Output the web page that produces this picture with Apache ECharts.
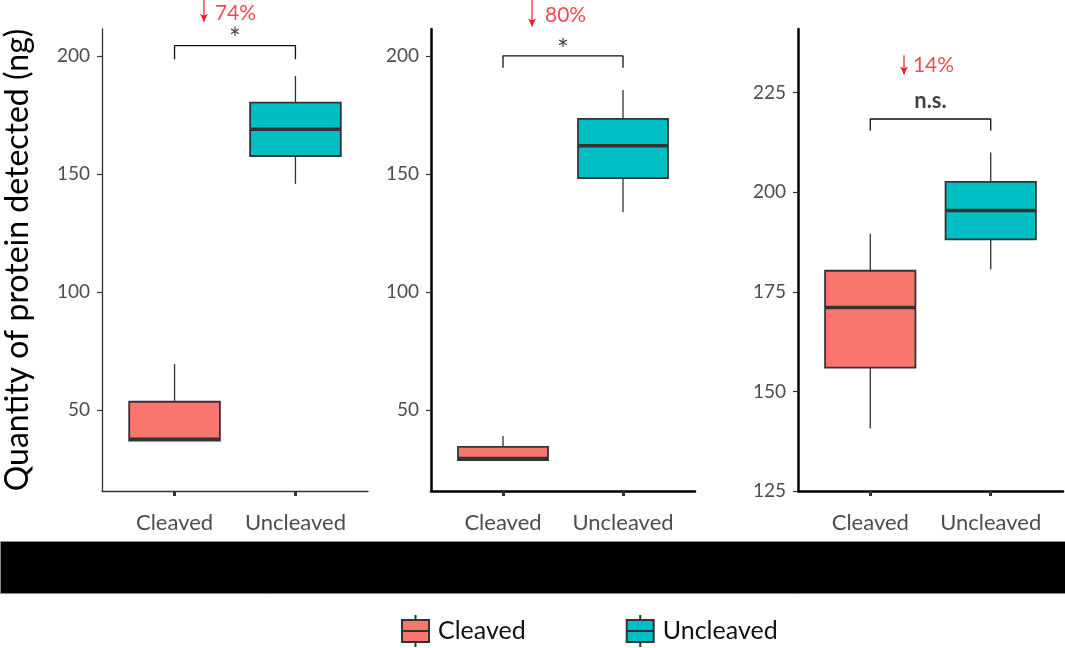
<!DOCTYPE html>
<html>
<head>
<meta charset="utf-8">
<script src="https://cdn.jsdelivr.net/npm/echarts@6/dist/echarts.min.js"></script>
<style>
html,body{margin:0;padding:0;background:#ffffff;}
#main{width:1065px;height:648px;}
</style>
</head>
<body>
<div id="main"></div>
<script>
// ---------------- data ----------------
const categories = ['Cleaved', 'Uncleaved'];
const categoryPositions = [1, 2];
const groupColors = ['#F8766D', '#00BFC4'];

// box statistics: [min, Q1, median, Q3, max]
const panel1Cleaved   = [37.0, 37.0, 37.6, 53.5, 69.5];
const panel1Uncleaved = [145.8, 157.6, 168.9, 180.2, 191.5];
const panel2Cleaved   = [28.8, 28.8, 29.5, 34.4, 39.0];
const panel2Uncleaved = [133.8, 148.2, 161.9, 173.3, 185.6];
const panel3Cleaved   = [140.7, 156.0, 171.1, 180.3, 189.6];
const panel3Uncleaved = [180.6, 188.2, 195.4, 202.6, 210.0];

const yTicksLeft  = [50, 100, 150, 200];
const yTicksRight = [125, 150, 175, 200, 225];
const yRangeLeft  = [15.7, 211.4];
const yRangeRight = [125, 241];
const xRange = [0.4, 2.6];

const significanceLabels = ['*', '*', 'n.s.'];
const significanceY      = [209.5, 204.5, 223.0];
const bracketBottoms     = [198.6, 195.0, 215.5];
const bracketTops        = [204.4, 200.0, 218.4];

const reductionLabels = ['74%', '80%', '14%'];
const reductionX      = [1.334, 1.35, 1.354];
const reductionY      = [218.2, 217.4, 231.9];
const arrowX          = [1.243, 1.242, 1.28];
const arrowTop        = [223.7, 223.7, 234.4];
const arrowTip        = [214.5, 212.5, 229.6];

const yAxisTitle = 'Quantity of protein detected (ng)';

// ---------------- build ----------------
const panelBoxes = [
  [panel1Cleaved, panel1Uncleaved],
  [panel2Cleaved, panel2Uncleaved],
  [panel3Cleaved, panel3Uncleaved]
];
const panelYRanges = [yRangeLeft, yRangeLeft, yRangeRight];
const panelYTicks = [yTicksLeft, yTicksLeft, yTicksRight];
const FONT = 'Lato, "Open Sans", sans-serif';
const BOX_HALF = 0.375;

const grids = [
  {left: 102, top: 29, width: 266, height: 462},
  {left: 431, top: 29, width: 264, height: 462},
  {left: 798, top: 29, width: 265, height: 462}
];
const axisLineStyles = [
  {color: '#333333', width: 1.3},
  {color: '#000000', width: 2.5},
  {color: '#000000', width: 2.5}
];

const xAxes = grids.map((g, i) => ({
  type: 'value', gridIndex: i, min: xRange[0], max: xRange[1],
  axisLine: {show: true, lineStyle: axisLineStyles[i]},
  axisTick: {show: true, customValues: categoryPositions, length: 5, lineStyle: {color: '#333333', width: 3}},
  axisLabel: {show: true, customValues: categoryPositions, margin: 21,
    formatter: v => categories[Math.round(v) - 1] || '',
    fontFamily: FONT, fontSize: 22, color: '#4d4d4d'},
  splitLine: {show: false}
}));

const yAxes = grids.map((g, i) => {
  const ax = {
    type: 'value', gridIndex: i, min: panelYRanges[i][0], max: panelYRanges[i][1],
    axisLine: {show: true, lineStyle: axisLineStyles[i]},
    axisTick: {show: true, customValues: panelYTicks[i], length: 5, lineStyle: {color: '#333333', width: 1.2}},
    axisLabel: {show: true, customValues: panelYTicks[i], margin: 12,
      fontFamily: FONT, fontSize: 19, color: '#4d4d4d'},
    splitLine: {show: false}
  };
  if (i === 0) {
    ax.name = yAxisTitle;
    ax.nameLocation = 'middle';
    ax.nameGap = 68;
    ax.nameTextStyle = {fontFamily: FONT, fontSize: 32, color: '#000000'};
  }
  return ax;
});

function renderBox(params, api) {
  const x = api.value(0);
  const mn = api.value(1), q1 = api.value(2), med = api.value(3), q3 = api.value(4), mx = api.value(5);
  const pMax = api.coord([x, mx]), pQ3 = api.coord([x, q3]);
  const pQ1 = api.coord([x, q1]), pMin = api.coord([x, mn]);
  const tl = api.coord([x - BOX_HALF, q3]), br = api.coord([x + BOX_HALF, q1]);
  const mL = api.coord([x - BOX_HALF, med]), mR = api.coord([x + BOX_HALF, med]);
  const stroke = '#333333';
  return {
    type: 'group',
    children: [
      {type: 'line', shape: {x1: pMax[0], y1: pMax[1], x2: pQ3[0], y2: pQ3[1]}, style: {stroke: stroke, lineWidth: 1.3}},
      {type: 'line', shape: {x1: pQ1[0], y1: pQ1[1], x2: pMin[0], y2: pMin[1]}, style: {stroke: stroke, lineWidth: 1.3}},
      {type: 'rect', shape: {x: tl[0], y: tl[1], width: br[0] - tl[0], height: br[1] - tl[1]},
        style: {fill: api.visual('color'), stroke: stroke, lineWidth: 1.8}},
      {type: 'line', shape: {x1: mL[0], y1: mL[1], x2: mR[0], y2: mR[1]}, style: {stroke: stroke, lineWidth: 3.5}}
    ]
  };
}

const series = [];
panelBoxes.forEach((boxes, p) => {
  boxes.forEach((stats, g) => {
    series.push({
      name: categories[g], type: 'custom', xAxisIndex: p, yAxisIndex: p,
      itemStyle: {color: groupColors[g]},
      encode: {x: 0, y: [1, 2, 3, 4, 5]},
      data: [[categoryPositions[g]].concat(stats)],
      renderItem: renderBox, z: 2, silent: true
    });
  });
  // significance bracket
  series.push({
    name: 'bracket' + p, type: 'line', xAxisIndex: p, yAxisIndex: p, clip: false, silent: true,
    symbol: 'none', lineStyle: {color: '#111111', width: 1.3},
    data: [
      [categoryPositions[0], bracketBottoms[p]], [categoryPositions[0], bracketTops[p]],
      [categoryPositions[1], bracketTops[p]], [categoryPositions[1], bracketBottoms[p]]
    ]
  });
  // significance label
  const isStar = significanceLabels[p] === '*';
  series.push({
    name: 'sig' + p, type: 'scatter', xAxisIndex: p, yAxisIndex: p, clip: false, silent: true,
    symbolSize: 0,
    data: [[(categoryPositions[0] + categoryPositions[1]) / 2, significanceY[p]]],
    label: {show: true, position: 'inside', formatter: significanceLabels[p],
      offset: isStar ? [0, 6] : [0, 0],
      fontFamily: FONT, fontSize: isStar ? 28 : 22, color: '#111111', fontWeight: isStar ? 'normal' : 'bold'}
  });
  // reduction arrow
  series.push({
    name: 'arrow' + p, type: 'line', xAxisIndex: p, yAxisIndex: p, clip: false, silent: true,
    showSymbol: true, lineStyle: {color: '#ee1c25', width: 1.2}, itemStyle: {color: '#ee1c25'},
    data: [
      {value: [arrowX[p], arrowTop[p]], symbol: 'none'},
      {value: [arrowX[p], arrowTip[p]], symbol: 'arrow', symbolSize: [6, 8], symbolRotate: 180}
    ]
  });
  // reduction text
  series.push({
    name: 'red' + p, type: 'scatter', xAxisIndex: p, yAxisIndex: p, clip: false, silent: true,
    symbolSize: 0,
    data: [[reductionX[p], reductionY[p]]],
    label: {show: true, position: 'right', distance: 0, formatter: reductionLabels[p],
      fontFamily: FONT, fontSize: 21, color: '#ee1c25'}
  });
});

const legendIcon = 'path://M13.5,0L13.5,5M0,5L27,5L27,27L0,27ZM0,16L27,16M13.5,27L13.5,32';

const option = {
  animation: false,
  backgroundColor: '#ffffff',
  grid: grids,
  xAxis: xAxes,
  yAxis: yAxes,
  legend: {
    selectedMode: false,
    left: 396, top: 609,
    itemWidth: 27, itemHeight: 32, itemGap: 100,
    textStyle: {fontFamily: FONT, fontSize: 25, color: '#111111', padding: [0, 0, 0, 4]},
    data: categories.map((c, i) => ({
      name: c, icon: legendIcon,
      itemStyle: {color: groupColors[i], borderColor: '#333333', borderWidth: 2}
    }))
  },
  graphic: [{
    type: 'rect', left: 0, top: 541, z: 100,
    shape: {width: 1065, height: 52},
    style: {fill: '#000000', stroke: '#8a8a8a', lineWidth: 1}
  }],
  series: series
};

const chart = echarts.init(document.getElementById('main'), null, {renderer: 'canvas'});
chart.setOption(option);
</script>
</body>
</html>
